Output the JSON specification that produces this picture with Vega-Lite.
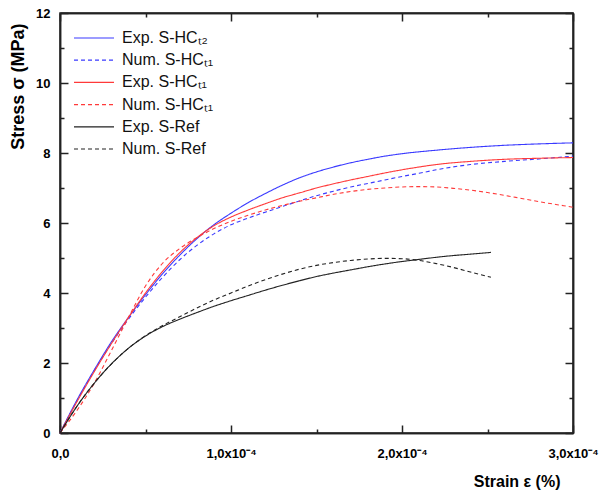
{
"$schema": "https://vega.github.io/schema/vega-lite/v6.json",
"width": 513, "height": 420,
"autosize": {"type": "none"},
"padding": {"left": 60, "top": 13, "right": 29, "bottom": 64},
"background": "white",
"config": {"view": {"stroke": "#222", "strokeWidth": 1.5}, "font": "Liberation Sans",
 "axis": {"grid": false, "domainColor": "#222", "domainWidth": 1.5, "tickColor": "#222", "tickWidth": 1.5}},
"data": {"values": [
{"series":"Exp. S-HCₜ₂","strain":0,"stress":0},
{"series":"Exp. S-HCₜ₂","strain":0.00001,"stress":0.95},
{"series":"Exp. S-HCₜ₂","strain":0.00002,"stress":1.8},
{"series":"Exp. S-HCₜ₂","strain":0.00003,"stress":2.6},
{"series":"Exp. S-HCₜ₂","strain":0.00004,"stress":3.3},
{"series":"Exp. S-HCₜ₂","strain":0.00005,"stress":3.95},
{"series":"Exp. S-HCₜ₂","strain":0.00006,"stress":4.55},
{"series":"Exp. S-HCₜ₂","strain":0.00007,"stress":5.08},
{"series":"Exp. S-HCₜ₂","strain":0.00008,"stress":5.55},
{"series":"Exp. S-HCₜ₂","strain":0.00009,"stress":5.95},
{"series":"Exp. S-HCₜ₂","strain":0.0001,"stress":6.28},
{"series":"Exp. S-HCₜ₂","strain":0.00011,"stress":6.58},
{"series":"Exp. S-HCₜ₂","strain":0.00012,"stress":6.84},
{"series":"Exp. S-HCₜ₂","strain":0.00013,"stress":7.08},
{"series":"Exp. S-HCₜ₂","strain":0.00014,"stress":7.29},
{"series":"Exp. S-HCₜ₂","strain":0.00015,"stress":7.46},
{"series":"Exp. S-HCₜ₂","strain":0.00016,"stress":7.6},
{"series":"Exp. S-HCₜ₂","strain":0.00017,"stress":7.72},
{"series":"Exp. S-HCₜ₂","strain":0.00018,"stress":7.82},
{"series":"Exp. S-HCₜ₂","strain":0.00019,"stress":7.91},
{"series":"Exp. S-HCₜ₂","strain":0.0002,"stress":7.98},
{"series":"Exp. S-HCₜ₂","strain":0.00022,"stress":8.08},
{"series":"Exp. S-HCₜ₂","strain":0.00024,"stress":8.16},
{"series":"Exp. S-HCₜ₂","strain":0.00026,"stress":8.22},
{"series":"Exp. S-HCₜ₂","strain":0.00028,"stress":8.26},
{"series":"Exp. S-HCₜ₂","strain":0.0003,"stress":8.29},
{"series":"Num. S-HCₜ₁ (blue)","strain":0,"stress":0},
{"series":"Num. S-HCₜ₁ (blue)","strain":0.00001,"stress":0.93},
{"series":"Num. S-HCₜ₁ (blue)","strain":0.00002,"stress":1.78},
{"series":"Num. S-HCₜ₁ (blue)","strain":0.00003,"stress":2.55},
{"series":"Num. S-HCₜ₁ (blue)","strain":0.00004,"stress":3.25},
{"series":"Num. S-HCₜ₁ (blue)","strain":0.00005,"stress":3.88},
{"series":"Num. S-HCₜ₁ (blue)","strain":0.00006,"stress":4.45},
{"series":"Num. S-HCₜ₁ (blue)","strain":0.00007,"stress":4.95},
{"series":"Num. S-HCₜ₁ (blue)","strain":0.00008,"stress":5.36},
{"series":"Num. S-HCₜ₁ (blue)","strain":0.00009,"stress":5.69},
{"series":"Num. S-HCₜ₁ (blue)","strain":0.0001,"stress":5.95},
{"series":"Num. S-HCₜ₁ (blue)","strain":0.00011,"stress":6.14},
{"series":"Num. S-HCₜ₁ (blue)","strain":0.00012,"stress":6.31},
{"series":"Num. S-HCₜ₁ (blue)","strain":0.00013,"stress":6.47},
{"series":"Num. S-HCₜ₁ (blue)","strain":0.00014,"stress":6.63},
{"series":"Num. S-HCₜ₁ (blue)","strain":0.00015,"stress":6.78},
{"series":"Num. S-HCₜ₁ (blue)","strain":0.00016,"stress":6.91},
{"series":"Num. S-HCₜ₁ (blue)","strain":0.00017,"stress":7.03},
{"series":"Num. S-HCₜ₁ (blue)","strain":0.00018,"stress":7.13},
{"series":"Num. S-HCₜ₁ (blue)","strain":0.00019,"stress":7.23},
{"series":"Num. S-HCₜ₁ (blue)","strain":0.0002,"stress":7.33},
{"series":"Num. S-HCₜ₁ (blue)","strain":0.00021,"stress":7.42},
{"series":"Num. S-HCₜ₁ (blue)","strain":0.00022,"stress":7.52},
{"series":"Num. S-HCₜ₁ (blue)","strain":0.00024,"stress":7.67},
{"series":"Num. S-HCₜ₁ (blue)","strain":0.00026,"stress":7.76},
{"series":"Num. S-HCₜ₁ (blue)","strain":0.00028,"stress":7.83},
{"series":"Num. S-HCₜ₁ (blue)","strain":0.0003,"stress":7.91},
{"series":"Exp. S-HCₜ₁","strain":0,"stress":0},
{"series":"Exp. S-HCₜ₁","strain":0.00001,"stress":0.9},
{"series":"Exp. S-HCₜ₁","strain":0.00002,"stress":1.75},
{"series":"Exp. S-HCₜ₁","strain":0.00003,"stress":2.55},
{"series":"Exp. S-HCₜ₁","strain":0.00004,"stress":3.3},
{"series":"Exp. S-HCₜ₁","strain":0.00005,"stress":4.0},
{"series":"Exp. S-HCₜ₁","strain":0.00006,"stress":4.62},
{"series":"Exp. S-HCₜ₁","strain":0.00007,"stress":5.15},
{"series":"Exp. S-HCₜ₁","strain":0.00008,"stress":5.58},
{"series":"Exp. S-HCₜ₁","strain":0.00009,"stress":5.92},
{"series":"Exp. S-HCₜ₁","strain":0.0001,"stress":6.17},
{"series":"Exp. S-HCₜ₁","strain":0.00011,"stress":6.37},
{"series":"Exp. S-HCₜ₁","strain":0.00012,"stress":6.55},
{"series":"Exp. S-HCₜ₁","strain":0.00013,"stress":6.72},
{"series":"Exp. S-HCₜ₁","strain":0.00014,"stress":6.86},
{"series":"Exp. S-HCₜ₁","strain":0.00015,"stress":7.0},
{"series":"Exp. S-HCₜ₁","strain":0.00016,"stress":7.12},
{"series":"Exp. S-HCₜ₁","strain":0.00017,"stress":7.23},
{"series":"Exp. S-HCₜ₁","strain":0.00018,"stress":7.33},
{"series":"Exp. S-HCₜ₁","strain":0.00019,"stress":7.43},
{"series":"Exp. S-HCₜ₁","strain":0.0002,"stress":7.52},
{"series":"Exp. S-HCₜ₁","strain":0.00021,"stress":7.6},
{"series":"Exp. S-HCₜ₁","strain":0.00022,"stress":7.67},
{"series":"Exp. S-HCₜ₁","strain":0.00024,"stress":7.76},
{"series":"Exp. S-HCₜ₁","strain":0.00026,"stress":7.82},
{"series":"Exp. S-HCₜ₁","strain":0.00028,"stress":7.85},
{"series":"Exp. S-HCₜ₁","strain":0.0003,"stress":7.87},
{"series":"Num. S-HCₜ₁ (red)","strain":0,"stress":0},
{"series":"Num. S-HCₜ₁ (red)","strain":0.00001,"stress":0.65},
{"series":"Num. S-HCₜ₁ (red)","strain":0.00002,"stress":1.42},
{"series":"Num. S-HCₜ₁ (red)","strain":0.00003,"stress":2.35},
{"series":"Num. S-HCₜ₁ (red)","strain":0.00004,"stress":3.3},
{"series":"Num. S-HCₜ₁ (red)","strain":0.00005,"stress":4.2},
{"series":"Num. S-HCₜ₁ (red)","strain":0.00006,"stress":4.85},
{"series":"Num. S-HCₜ₁ (red)","strain":0.00007,"stress":5.27},
{"series":"Num. S-HCₜ₁ (red)","strain":0.00008,"stress":5.58},
{"series":"Num. S-HCₜ₁ (red)","strain":0.00009,"stress":5.84},
{"series":"Num. S-HCₜ₁ (red)","strain":0.0001,"stress":6.05},
{"series":"Num. S-HCₜ₁ (red)","strain":0.00011,"stress":6.22},
{"series":"Num. S-HCₜ₁ (red)","strain":0.00012,"stress":6.37},
{"series":"Num. S-HCₜ₁ (red)","strain":0.00013,"stress":6.5},
{"series":"Num. S-HCₜ₁ (red)","strain":0.00014,"stress":6.62},
{"series":"Num. S-HCₜ₁ (red)","strain":0.00015,"stress":6.72},
{"series":"Num. S-HCₜ₁ (red)","strain":0.00016,"stress":6.82},
{"series":"Num. S-HCₜ₁ (red)","strain":0.00017,"stress":6.9},
{"series":"Num. S-HCₜ₁ (red)","strain":0.00018,"stress":6.96},
{"series":"Num. S-HCₜ₁ (red)","strain":0.00019,"stress":7.0},
{"series":"Num. S-HCₜ₁ (red)","strain":0.0002,"stress":7.03},
{"series":"Num. S-HCₜ₁ (red)","strain":0.00021,"stress":7.04},
{"series":"Num. S-HCₜ₁ (red)","strain":0.00022,"stress":7.03},
{"series":"Num. S-HCₜ₁ (red)","strain":0.00023,"stress":6.99},
{"series":"Num. S-HCₜ₁ (red)","strain":0.00024,"stress":6.94},
{"series":"Num. S-HCₜ₁ (red)","strain":0.00025,"stress":6.87},
{"series":"Num. S-HCₜ₁ (red)","strain":0.00026,"stress":6.79},
{"series":"Num. S-HCₜ₁ (red)","strain":0.00027,"stress":6.7},
{"series":"Num. S-HCₜ₁ (red)","strain":0.00028,"stress":6.61},
{"series":"Num. S-HCₜ₁ (red)","strain":0.00029,"stress":6.53},
{"series":"Num. S-HCₜ₁ (red)","strain":0.0003,"stress":6.45},
{"series":"Exp. S-Ref","strain":0,"stress":0},
{"series":"Exp. S-Ref","strain":0.00001,"stress":0.77},
{"series":"Exp. S-Ref","strain":0.00002,"stress":1.42},
{"series":"Exp. S-Ref","strain":0.00003,"stress":1.97},
{"series":"Exp. S-Ref","strain":0.00004,"stress":2.42},
{"series":"Exp. S-Ref","strain":0.00005,"stress":2.77},
{"series":"Exp. S-Ref","strain":0.00006,"stress":3.04},
{"series":"Exp. S-Ref","strain":0.00007,"stress":3.25},
{"series":"Exp. S-Ref","strain":0.00008,"stress":3.44},
{"series":"Exp. S-Ref","strain":0.00009,"stress":3.62},
{"series":"Exp. S-Ref","strain":0.0001,"stress":3.78},
{"series":"Exp. S-Ref","strain":0.00011,"stress":3.93},
{"series":"Exp. S-Ref","strain":0.00012,"stress":4.08},
{"series":"Exp. S-Ref","strain":0.00013,"stress":4.22},
{"series":"Exp. S-Ref","strain":0.00014,"stress":4.35},
{"series":"Exp. S-Ref","strain":0.00015,"stress":4.47},
{"series":"Exp. S-Ref","strain":0.00016,"stress":4.57},
{"series":"Exp. S-Ref","strain":0.00017,"stress":4.66},
{"series":"Exp. S-Ref","strain":0.00018,"stress":4.75},
{"series":"Exp. S-Ref","strain":0.00019,"stress":4.83},
{"series":"Exp. S-Ref","strain":0.0002,"stress":4.9},
{"series":"Exp. S-Ref","strain":0.00021,"stress":4.96},
{"series":"Exp. S-Ref","strain":0.00022,"stress":5.02},
{"series":"Exp. S-Ref","strain":0.00023,"stress":5.07},
{"series":"Exp. S-Ref","strain":0.00024,"stress":5.11},
{"series":"Exp. S-Ref","strain":0.000252,"stress":5.16},
{"series":"Num. S-Ref","strain":0,"stress":0},
{"series":"Num. S-Ref","strain":0.00001,"stress":0.77},
{"series":"Num. S-Ref","strain":0.00002,"stress":1.42},
{"series":"Num. S-Ref","strain":0.00003,"stress":1.97},
{"series":"Num. S-Ref","strain":0.00004,"stress":2.42},
{"series":"Num. S-Ref","strain":0.00005,"stress":2.78},
{"series":"Num. S-Ref","strain":0.00006,"stress":3.07},
{"series":"Num. S-Ref","strain":0.00007,"stress":3.32},
{"series":"Num. S-Ref","strain":0.00008,"stress":3.57},
{"series":"Num. S-Ref","strain":0.00009,"stress":3.8},
{"series":"Num. S-Ref","strain":0.0001,"stress":4.0},
{"series":"Num. S-Ref","strain":0.00011,"stress":4.2},
{"series":"Num. S-Ref","strain":0.00012,"stress":4.38},
{"series":"Num. S-Ref","strain":0.00013,"stress":4.54},
{"series":"Num. S-Ref","strain":0.00014,"stress":4.68},
{"series":"Num. S-Ref","strain":0.00015,"stress":4.79},
{"series":"Num. S-Ref","strain":0.00016,"stress":4.87},
{"series":"Num. S-Ref","strain":0.00017,"stress":4.93},
{"series":"Num. S-Ref","strain":0.00018,"stress":4.97},
{"series":"Num. S-Ref","strain":0.00019,"stress":4.99},
{"series":"Num. S-Ref","strain":0.0002,"stress":4.98},
{"series":"Num. S-Ref","strain":0.00021,"stress":4.93},
{"series":"Num. S-Ref","strain":0.00022,"stress":4.84},
{"series":"Num. S-Ref","strain":0.00023,"stress":4.73},
{"series":"Num. S-Ref","strain":0.00024,"stress":4.6},
{"series":"Num. S-Ref","strain":0.000252,"stress":4.45}
]},
"layer": [
{
"mark": {"type": "line", "strokeWidth": 1.1, "interpolate": "monotone"},
"encoding": {
"x": {"field": "strain", "type": "quantitative",
 "scale": {"domain": [0, 0.0003], "nice": false, "zero": false},
 "axis": {"orient": "bottom", "values": [0, 0.0001, 0.0002, 0.0003], "tickSize": -8,
  "labelExpr": "datum.value == 0 ? '0,0' : replace(format(datum.value*10000, '.1f'), '.', ',') + 'x10⁻⁴'",
  "labelFlush": false, "labelOverlap": false, "labelFont": "Liberation Sans", "labelFontWeight": "bold", "labelFontSize": 13, "labelColor": "#000", "labelPadding": 22,
  "title": "Strain ε (%)", "titleFont": "Liberation Sans", "titleFontSize": 16, "titleFontWeight": "bold", "titleColor": "#000",
  "titleX": 500, "titleY": 48, "titleAlign": "right", "titleBaseline": "middle"}},
"y": {"field": "stress", "type": "quantitative",
 "scale": {"domain": [0, 12], "nice": false},
 "axis": {"orient": "left", "values": [0,2,4,6,8,10,12], "tickSize": -8,
  "labelOverlap": false, "labelFont": "Liberation Sans", "labelFontWeight": "bold", "labelFontSize": 13, "labelColor": "#000", "labelPadding": 18,
  "title": "Stress σ (MPa)", "titleFont": "Liberation Sans", "titleFontSize": 18, "titleFontWeight": "bold", "titleColor": "#000",
  "titleX": -42, "titleY": 10, "titleAngle": -90, "titleAlign": "right", "titleBaseline": "middle"}},
"color": {"field": "series", "type": "nominal",
 "scale": {"domain": ["Exp. S-HCₜ₂", "Num. S-HCₜ₁ (blue)", "Exp. S-HCₜ₁", "Num. S-HCₜ₁ (red)", "Exp. S-Ref", "Num. S-Ref"],
  "range": ["#3a3aff", "#3a3aff", "#ff3a3a", "#ff3a3a", "#222222", "#222222"]},
 "legend": {"orient": "none", "legendX": 13, "legendY": 17, "title": null, "padding": 0,
  "symbolType": "stroke", "symbolSize": 1600, "symbolStrokeWidth": 1.2, "clipHeight": 16,
  "labelFont": "Liberation Sans", "labelFontSize": 16, "labelColor": "#111", "labelOffset": 7, "rowPadding": 6.2,
  "labelExpr": "replace(replace(datum.label, ' (blue)', ''), ' (red)', '')"}},
"strokeDash": {"field": "series", "type": "nominal",
 "scale": {"domain": ["Exp. S-HCₜ₂", "Num. S-HCₜ₁ (blue)", "Exp. S-HCₜ₁", "Num. S-HCₜ₁ (red)", "Exp. S-Ref", "Num. S-Ref"],
  "range": [[1,0],[4,3],[1,0],[4,3],[1,0],[4,3]]}}
}
},
{
"mark": {"type": "point", "opacity": 0},
"encoding": {
"x": {"field": "strain", "type": "quantitative",
 "axis": {"orient": "top", "values": [0, 0.0001, 0.0002, 0.0003], "tickSize": -8, "labels": false, "title": null}},
"y": {"field": "stress", "type": "quantitative",
 "axis": {"orient": "right", "values": [0,2,4,6,8,10,12], "tickSize": -8, "labels": false, "title": null}}
}
},
{
"mark": {"type": "point", "opacity": 0},
"encoding": {
"x": {"field": "strain", "type": "quantitative",
 "axis": {"orient": "bottom", "values": [0.00005, 0.00015, 0.00025], "tickSize": -4, "labels": false, "title": null}},
"y": {"field": "stress", "type": "quantitative",
 "axis": {"orient": "left", "values": [1,3,5,7,9,11], "tickSize": -4, "labels": false, "title": null}}
}
},
{
"mark": {"type": "point", "opacity": 0},
"encoding": {
"x": {"field": "strain", "type": "quantitative",
 "axis": {"orient": "top", "values": [0.00005, 0.00015, 0.00025], "tickSize": -4, "labels": false, "title": null}},
"y": {"field": "stress", "type": "quantitative",
 "axis": {"orient": "right", "values": [1,3,5,7,9,11], "tickSize": -4, "labels": false, "title": null}}
}
}
],
"resolve": {"axis": {"x": "independent", "y": "independent"}}
}
